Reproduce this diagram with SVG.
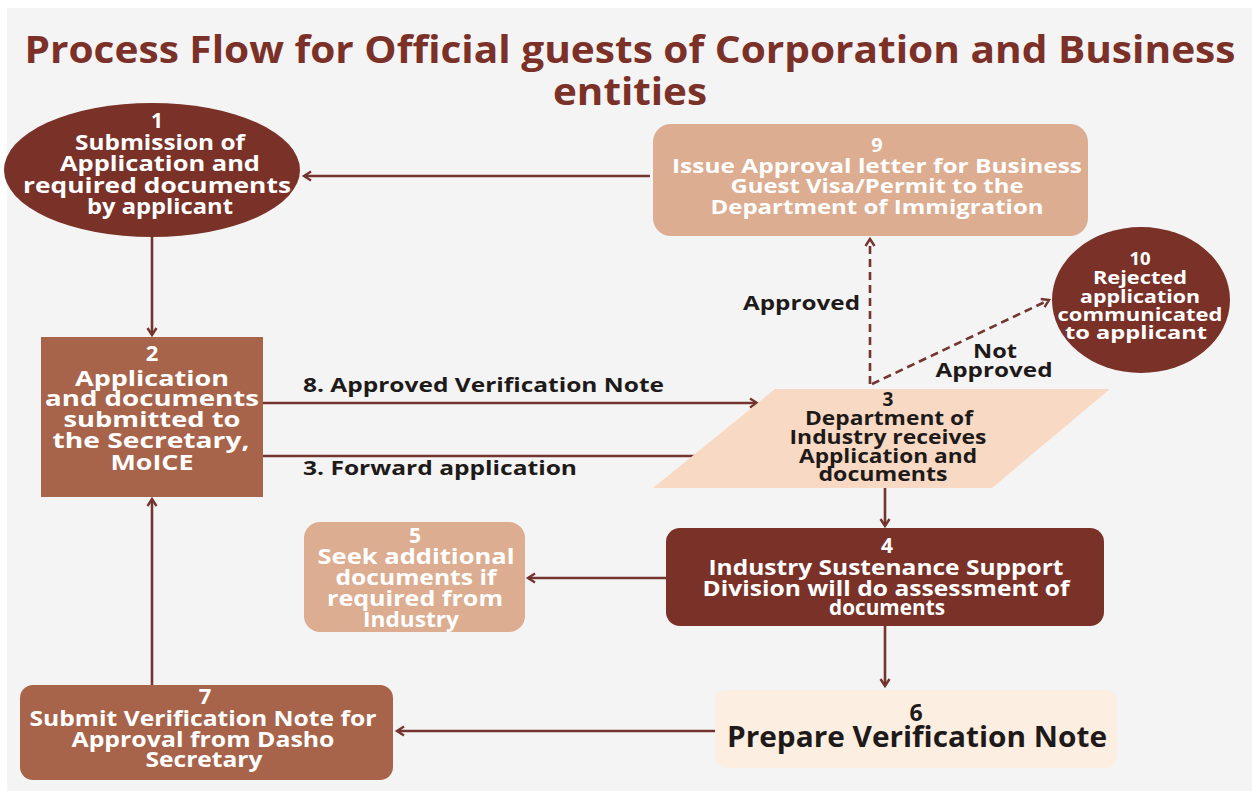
<svg xmlns="http://www.w3.org/2000/svg" width="1252" height="791" viewBox="0 0 1252 791">
<style>
.t{font-family:"Open Sans","DejaVu Sans",sans-serif;font-weight:bold;text-anchor:middle}
.w{fill:#ffffff}
.d{fill:#1e1a19}
.ln{fill:none;stroke:#74342f;stroke-width:2.6}
.ds{fill:none;stroke:#74342f;stroke-width:2.6;stroke-dasharray:8 5}
.lbl{font-family:"Open Sans","DejaVu Sans",sans-serif;font-weight:bold;fill:#1e1a19;font-size:20px}
</style>
<defs>
<marker id="ah" markerWidth="12" markerHeight="12" refX="9" refY="6" orient="auto" markerUnits="userSpaceOnUse">
<path d="M2,1.5 L9,6 L2,10.5" fill="none" stroke="#74342f" stroke-width="2.4"/>
</marker>
</defs>
<rect x="0" y="0" width="1252" height="791" fill="#ffffff"/>
<rect x="7" y="8" width="1245" height="783" fill="#f4f4f4"/>
<g id="title">
<text class="t" x="630" y="63" font-size="37" fill="#7b3128" textLength="1211" lengthAdjust="spacingAndGlyphs">Process Flow for Official guests of Corporation and Business</text>
<text class="t" x="630" y="105" font-size="37" fill="#7b3128" textLength="154" lengthAdjust="spacingAndGlyphs">entities</text>
</g>
<g id="connectors">
<line class="ln" x1="650" y1="176" x2="304" y2="176" marker-end="url(#ah)"/>
<line class="ln" x1="152" y1="237" x2="152" y2="335" marker-end="url(#ah)"/>
<line class="ln" x1="263" y1="403" x2="757" y2="403" marker-end="url(#ah)"/>
<line class="ln" x1="263" y1="456" x2="715" y2="456" marker-end="url(#ah)"/>
<line class="ln" x1="885" y1="488" x2="885" y2="526" marker-end="url(#ah)"/>
<line class="ln" x1="666" y1="578" x2="528" y2="578" marker-end="url(#ah)"/>
<line class="ln" x1="885" y1="626" x2="885" y2="686" marker-end="url(#ah)"/>
<line class="ln" x1="715" y1="731" x2="397" y2="731" marker-end="url(#ah)"/>
<line class="ln" x1="152" y1="685" x2="152" y2="499" marker-end="url(#ah)"/>
<line class="ds" x1="870" y1="384" x2="870" y2="239" marker-end="url(#ah)"/>
<line class="ds" x1="872" y1="384" x2="1049" y2="300" marker-end="url(#ah)"/>
<text class="lbl" x="303" y="392" textLength="361" lengthAdjust="spacingAndGlyphs">8. Approved Verification Note</text>
<text class="lbl" x="303" y="475" textLength="274" lengthAdjust="spacingAndGlyphs">3. Forward application</text>
<text class="lbl" x="743" y="310" textLength="117" lengthAdjust="spacingAndGlyphs">Approved</text>
<text class="lbl" x="995" y="358" text-anchor="middle" textLength="44" lengthAdjust="spacingAndGlyphs">Not</text>
<text class="lbl" x="994" y="377" text-anchor="middle" textLength="117" lengthAdjust="spacingAndGlyphs">Approved</text>
</g>
<g id="node1">
<ellipse cx="152" cy="170" rx="148" ry="67" fill="#7a3128"/>
<text class="t w" font-size="21" lengthAdjust="spacingAndGlyphs">
<tspan x="157" y="128">1</tspan></text>
<text class="t w" font-size="21" x="160" y="150" textLength="170" lengthAdjust="spacingAndGlyphs">Submission of</text>
<text class="t w" font-size="21" x="160" y="171" textLength="200" lengthAdjust="spacingAndGlyphs">Application and</text>
<text class="t w" font-size="21" x="157" y="193" textLength="268" lengthAdjust="spacingAndGlyphs">required documents</text>
<text class="t w" font-size="21" x="160" y="214" textLength="146" lengthAdjust="spacingAndGlyphs">by applicant</text>
</g>
<g id="node9">
<rect x="653" y="124" width="435" height="112" rx="18" fill="#dcad90"/>
<text class="t w" font-size="20" x="877" y="152">9</text>
<text class="t w" font-size="20" x="877" y="173" textLength="410" lengthAdjust="spacingAndGlyphs">Issue Approval letter for Business</text>
<text class="t w" font-size="20" x="877" y="193" textLength="293" lengthAdjust="spacingAndGlyphs">Guest Visa/Permit to the</text>
<text class="t w" font-size="20" x="877" y="214" textLength="333" lengthAdjust="spacingAndGlyphs">Department of Immigration</text>
</g>
<g id="node10">
<ellipse cx="1141" cy="300" rx="89" ry="73" fill="#7a3128"/>
<text class="t w" font-size="18.5" x="1140" y="265">10</text>
<text class="t w" font-size="18.5" x="1140" y="284" textLength="94" lengthAdjust="spacingAndGlyphs">Rejected</text>
<text class="t w" font-size="18.5" x="1140" y="303" textLength="120" lengthAdjust="spacingAndGlyphs">application</text>
<text class="t w" font-size="18.5" x="1140" y="321" textLength="165" lengthAdjust="spacingAndGlyphs">communicated</text>
<text class="t w" font-size="18.5" x="1136" y="339" textLength="142" lengthAdjust="spacingAndGlyphs">to applicant</text>
</g>
<g id="node2">
<rect x="41" y="337" width="222" height="160" fill="#a8644a"/>
<text class="t w" font-size="22" x="152" y="361">2</text>
<text class="t w" font-size="22" x="152" y="386" textLength="154" lengthAdjust="spacingAndGlyphs">Application</text>
<text class="t w" font-size="22" x="152" y="406" textLength="214" lengthAdjust="spacingAndGlyphs">and documents</text>
<text class="t w" font-size="22" x="152" y="427" textLength="177" lengthAdjust="spacingAndGlyphs">submitted to</text>
<text class="t w" font-size="22" x="151" y="448" textLength="197" lengthAdjust="spacingAndGlyphs">the  Secretary,</text>
<text class="t w" font-size="22" x="152" y="470" textLength="83" lengthAdjust="spacingAndGlyphs">MoICE</text>
</g>
<g id="node3">
<polygon points="775,389 1110,389 992,488 653,488" fill="#f8d9c3"/>
<text class="t d" font-size="19" x="888" y="406">3</text>
<text class="t d" font-size="19" x="889" y="425" textLength="168" lengthAdjust="spacingAndGlyphs">Department of</text>
<text class="t d" font-size="19" x="888" y="444" textLength="197" lengthAdjust="spacingAndGlyphs">Industry receives</text>
<text class="t d" font-size="19" x="888" y="463" textLength="178" lengthAdjust="spacingAndGlyphs">Application and</text>
<text class="t d" font-size="19" x="883" y="481" textLength="129" lengthAdjust="spacingAndGlyphs">documents</text>
</g>
<g id="node4">
<rect x="666" y="528" width="438" height="98" rx="14" fill="#7a3128"/>
<text class="t w" font-size="21" x="887" y="553">4</text>
<text class="t w" font-size="21" x="886" y="575" textLength="355" lengthAdjust="spacingAndGlyphs">Industry Sustenance Support</text>
<text class="t w" font-size="21" x="886" y="596" textLength="367" lengthAdjust="spacingAndGlyphs">Division will do assessment of</text>
<text class="t w" font-size="21" x="887" y="615" textLength="116" lengthAdjust="spacingAndGlyphs">documents</text>
</g>
<g id="node5">
<rect x="304" y="522" width="221" height="110" rx="16" fill="#dcad90"/>
<text class="t w" font-size="21" x="415" y="543">5</text>
<text class="t w" font-size="21" x="416" y="564" textLength="197" lengthAdjust="spacingAndGlyphs">Seek additional</text>
<text class="t w" font-size="21" x="416" y="585" textLength="161" lengthAdjust="spacingAndGlyphs">documents if</text>
<text class="t w" font-size="21" x="415" y="606" textLength="176" lengthAdjust="spacingAndGlyphs">required from</text>
<text class="t w" font-size="21" x="411" y="627" textLength="96" lengthAdjust="spacingAndGlyphs">Industry</text>
</g>
<g id="node6">
<rect x="715" y="690" width="402" height="78" rx="12" fill="#fdeee2"/>
<text class="t d" font-size="23" x="916" y="721">6</text>
<text class="t d" font-size="29" x="917" y="747" textLength="380" lengthAdjust="spacingAndGlyphs">Prepare Verification Note</text>
</g>
<g id="node7">
<rect x="20" y="685" width="373" height="95" rx="13" fill="#a8644a"/>
<text class="t w" font-size="22" x="205" y="704">7</text>
<text class="t w" font-size="22" x="203" y="726" textLength="347" lengthAdjust="spacingAndGlyphs">Submit Verification Note for</text>
<text class="t w" font-size="22" x="203" y="747" textLength="263" lengthAdjust="spacingAndGlyphs">Approval from Dasho</text>
<text class="t w" font-size="22" x="204" y="767" textLength="117" lengthAdjust="spacingAndGlyphs">Secretary</text>
</g>
</svg>
